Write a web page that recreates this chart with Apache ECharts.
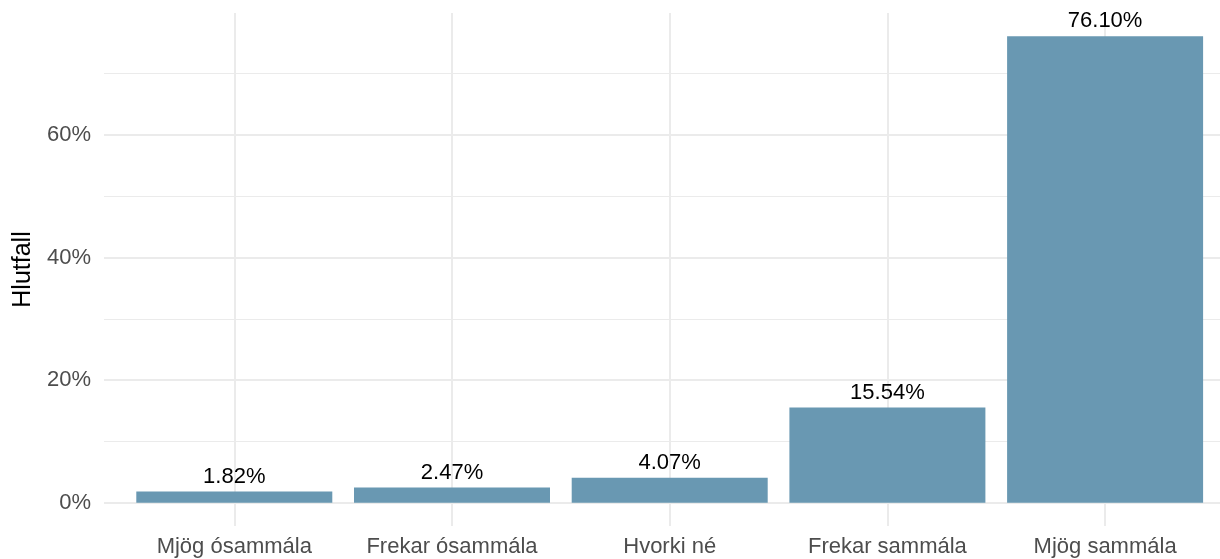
<!DOCTYPE html>
<html lang="is">

<head>
  <meta charset="UTF-8">
  <title>Hlutfall</title>
  <script src="https://cdn.jsdelivr.net/npm/echarts@6.0.0/dist/echarts.min.js"></script>
  <style>
    body { margin: 0; background: #fff; }
  </style>
</head>

<body>
  <div id="chart" style="width: 1220px;height: 559px;"></div>
</body>
<script>
  // svör og hlutföll (%)
  var categories = ['Mjög ósammála', 'Frekar ósammála', 'Hvorki né', 'Frekar sammála', 'Mjög sammála']
  var shares = [1.82, 2.47, 4.07, 15.54, 76.10]

  // ggplot-style 5% expansion around 0..max
  var yMin = -0.05 * 76.10
  var yMax = 76.10 * 1.05

  var font = "'Liberation Sans', Arial, sans-serif"
  var gridColor = '#ebebeb'

  var charts = echarts.init(document.getElementById('chart'));
  const option = {
    animation: false,
    grid: [
      // background panel: horizontal grid lines + y labels
      { left: 104, top: 13, width: 1131, height: 513 },
      // bars, first to last category centre
      { left: 234.3, top: 13, width: 870.8, height: 513 }
    ],
    xAxis: [
      { type: 'value', gridIndex: 0, min: 0, max: 1, show: false },
      {
        type: 'category',
        gridIndex: 1,
        data: categories,
        boundaryGap: false,
        axisLine: { show: false },
        axisTick: { show: false },
        axisLabel: { interval: 0, color: '#4d4d4d', fontSize: 22, fontFamily: font, margin: 10 },
        splitLine: { show: true, interval: 0, lineStyle: { color: gridColor, width: 2 } }
      }
    ],
    yAxis: [
      {
        type: 'value',
        gridIndex: 0,
        min: yMin,
        max: yMax,
        name: 'Hlutfall',
        nameLocation: 'middle',
        nameGap: 67,
        nameTextStyle: { color: '#000', fontSize: 25, fontFamily: font },
        axisLine: { show: false },
        axisTick: { show: false },
        minorTick: { show: false, splitNumber: 2 },
        axisLabel: {
          color: '#4d4d4d', fontSize: 22, fontFamily: font, margin: 13,
          showMinLabel: false, showMaxLabel: false,
          formatter: function (v) { return v + '%' }
        },
        splitLine: { show: true, showMinLine: false, showMaxLine: false, lineStyle: { color: gridColor, width: 2 } },
        minorSplitLine: { show: true, lineStyle: { color: gridColor, width: 1 } }
      },
      { type: 'value', gridIndex: 1, min: yMin, max: yMax, show: false, splitLine: { show: false } }
    ],
    series: [{
      type: 'bar',
      xAxisIndex: 1,
      yAxisIndex: 1,
      data: shares,
      barWidth: 196,
      clip: false,
      itemStyle: { color: '#6998b2' },
      label: {
        show: true,
        position: 'top',
        distance: 4,
        color: '#000',
        fontSize: 22,
        fontFamily: font,
        formatter: function (p) { return p.value.toFixed(2) + '%' }
      }
    }]
  };
  charts.setOption(option);
</script>

</html>
